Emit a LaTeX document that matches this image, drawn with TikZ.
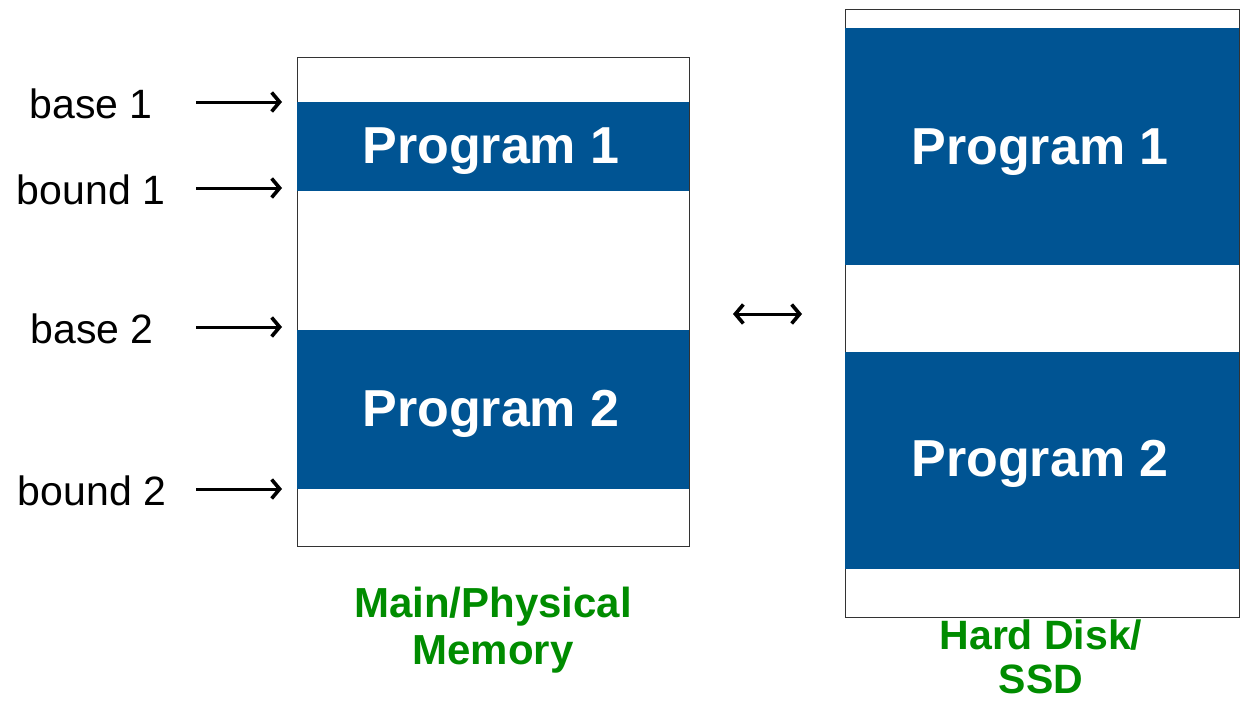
\documentclass[tikz,border=0pt]{standalone}
\usepackage{fontspec}
\setmainfont{Liberation Sans}
\usetikzlibrary{arrows.meta}
\definecolor{progblue}{RGB}{0,84,147}
\definecolor{labgreen}{RGB}{0,140,0}
\begin{document}
\begin{tikzpicture}[x=1pt,y=-1pt,
  frame/.style={draw=black!80,line width=1pt,fill=white},
  block/.style={fill=progblue},
  progtext/.style={text=white,font=\fontsize{52}{56}\selectfont\bfseries,inner sep=0pt},
  lab/.style={font=\fontsize{41}{46}\selectfont,inner sep=0pt,anchor=base},
  captxt/.style={text=labgreen,font=\fontsize{42}{47}\selectfont\bfseries,align=center,inner sep=0pt},
  disktxt/.style={text=labgreen,font=\fontsize{41}{44}\selectfont\bfseries,align=center,inner sep=0pt},
  arr/.style={line width=3pt,-{Straight Barb[length=8pt,width=19pt,line width=3.6pt]}},
  darr/.style={line width=3pt,{Straight Barb[length=8pt,width=19pt,line width=3.6pt]}-{Straight Barb[length=8pt,width=19pt,line width=3.6pt]}}
]
\useasboundingbox (0,0) rectangle (1241,701);
% main memory
\draw[frame] (297,58) rectangle (689,546);
\fill[block] (297,102) rectangle (689,191);
\fill[block] (297,330) rectangle (689,489);
\node[progtext] (mp1) at (491,151) {Program 1};
\node[progtext] (mp2) at (491,414) {Program 2};
\node[captxt] (mcap) at (493,630) {Main/Physical\\Memory};
% disk
\draw[frame] (845,10) rectangle (1239,617);
\fill[block] (845,28) rectangle (1239,265);
\fill[block] (845,352) rectangle (1239,569);
\node[progtext] (dp1) at (1040,152) {Program 1};
\node[progtext] (dp2) at (1040,464) {Program 2};
\node[disktxt] (dcap) at (1041,657) {Hard Disk/\\SSD};
% labels
\node[lab] (base1) at (91,118) {base 1};
\node[lab] (bound1) at (91,204) {bound 1};
\node[lab] (base2) at (92,343) {base 2};
\node[lab] (bound2) at (92,505) {bound 2};
\coordinate (s1) at (196,102); \coordinate (e1) at (282,102);
\coordinate (s2) at (196,188); \coordinate (e2) at (282,188);
\coordinate (s3) at (196,327); \coordinate (e3) at (282,327);
\coordinate (s4) at (196,489); \coordinate (e4) at (282,489);
\draw[arr] (s1) -- (e1);
\draw[arr] (s2) -- (e2);
\draw[arr] (s3) -- (e3);
\draw[arr] (s4) -- (e4);
\coordinate (ls) at (733,314); \coordinate (rs) at (802,314);
\draw[darr] (ls) -- (rs);
\end{tikzpicture}
\end{document}
